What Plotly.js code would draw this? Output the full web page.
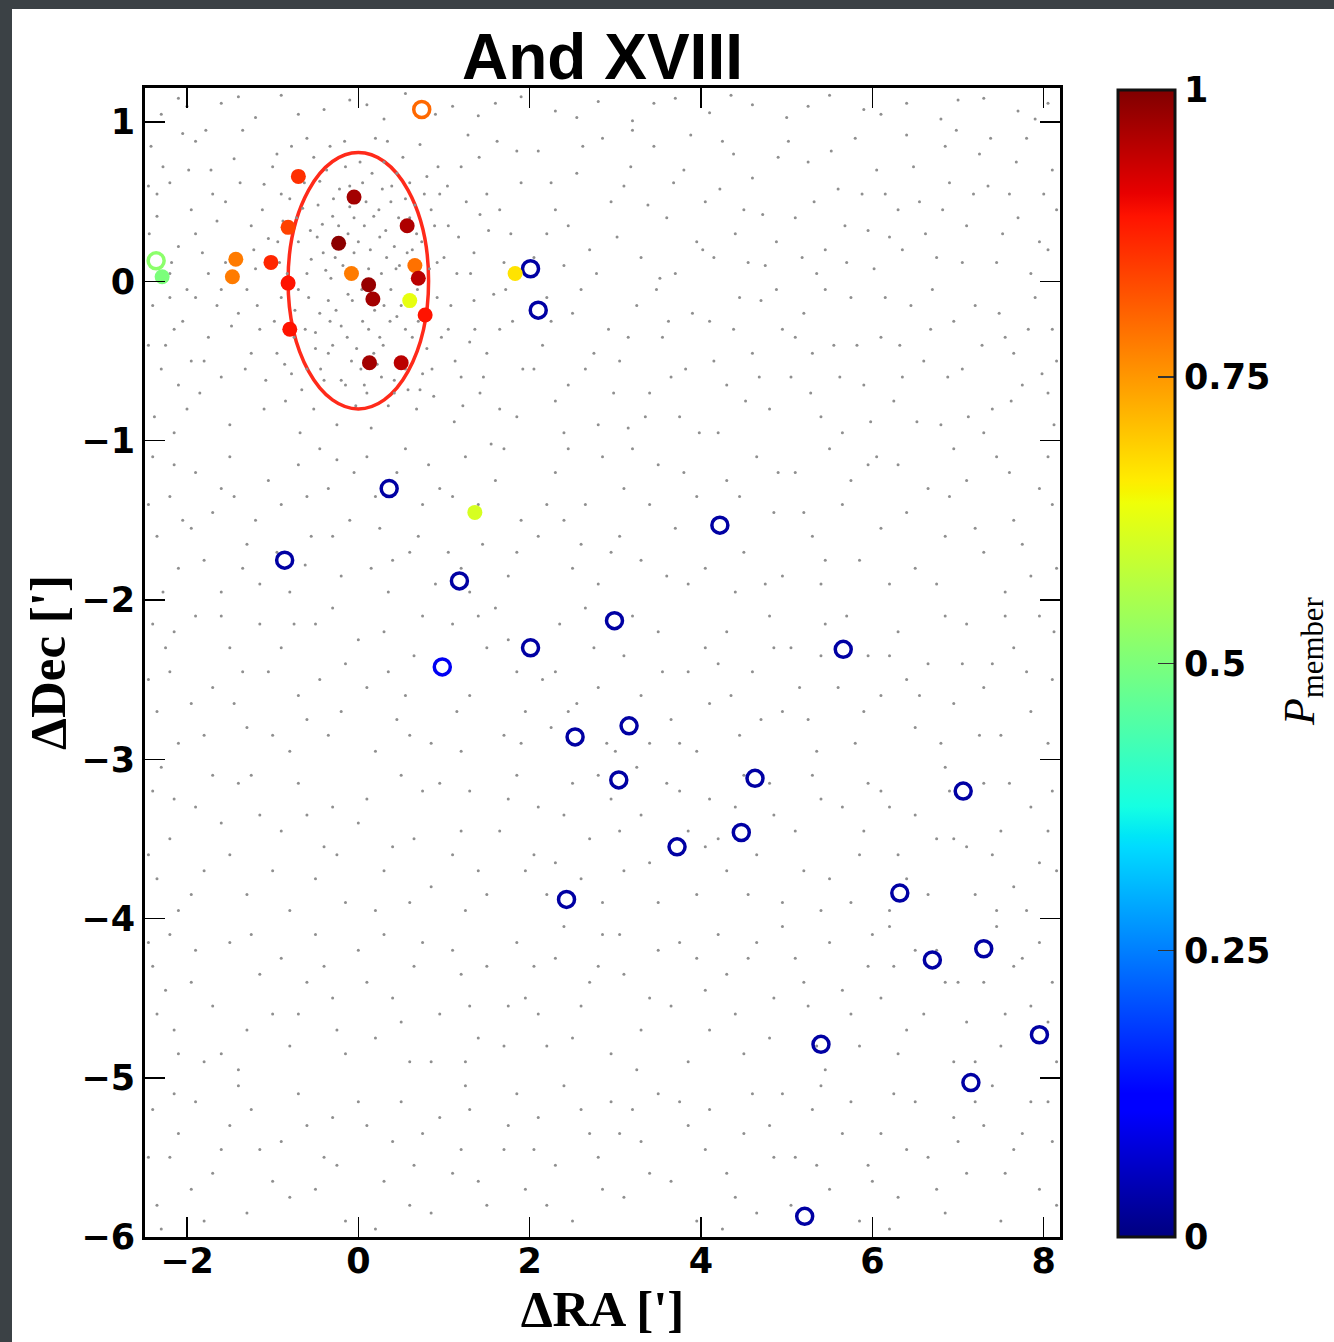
<!DOCTYPE html>
<html>
<head>
<meta charset="utf-8">
<script src="https://cdn.plot.ly/plotly-3.0.1.min.js"></script>
<style>
  html, body { margin:0; padding:0; background:#3b4145; width:1334px; height:1342px; overflow:hidden; }
  #chart { position:absolute; left:12px; top:9px; width:1322px; height:1333px; background:#fff; }
</style>
</head>
<body>
<div id="chart"></div>
<script>
// ---- tick values ----
const raTicks = [-2, 0, 2, 4, 6, 8];
const decTicks = [1, 0, -1, -2, -3, -4, -5, -6];
const cbTicks = [0, 0.25, 0.5, 0.75, 1];
const cbTickText = ['0', '0.25', '0.5', '0.75', '1'];

// ---- filled symbols (probable members), colour = P_member ----
const memberRA  = [-0.70, -0.05, -0.82, 0.57, -0.23, -1.43, -1.47, -1.02, -0.08, 0.66, 0.70, -0.82, 0.12, 0.17, 0.60, 0.78, -0.80, 0.13, 0.50, 1.83, 1.36, -2.29];
const memberDec = [ 0.66,  0.53,  0.34, 0.35,  0.24,  0.14,  0.03,  0.12,  0.05, 0.10, 0.02, -0.01, -0.02, -0.11, -0.12, -0.21, -0.30, -0.51, -0.51, 0.05, -1.45, 0.03];
const memberP   = [ 0.86,  0.97,  0.84, 0.96,  0.99,  0.78,  0.78,  0.87,  0.78, 0.79, 0.95, 0.89, 0.98, 0.97, 0.63, 0.89, 0.89, 0.97, 0.95, 0.67, 0.61, 0.50];

// ---- open symbols ----
const ringRA  = [0.74, -2.36, 2.01, 2.10, 0.36, 4.22, -0.86, 1.18, 2.99, 2.01, 5.66, 0.98, 3.16, 2.53, 3.04, 4.63, 7.06, 4.47, 3.72, 2.43, 6.32, 7.30, 6.70, 5.40, 7.95, 7.15, 5.21];
const ringDec = [1.08, 0.13, 0.08, -0.18, -1.30, -1.53, -1.75, -1.88, -2.13, -2.30, -2.31, -2.42, -2.79, -2.86, -3.13, -3.12, -3.20, -3.46, -3.55, -3.88, -3.84, -4.19, -4.26, -4.79, -4.73, -5.03, -5.87];
const ringP   = [0.80, 0.52, 0.03, 0.03, 0.03, 0.03, 0.03, 0.03, 0.03, 0.03, 0.03, 0.10, 0.03, 0.03, 0.03, 0.03, 0.03, 0.03, 0.03, 0.03, 0.03, 0.03, 0.03, 0.03, 0.03, 0.03, 0.03];

// ---- half-light ellipse (data units) ----
const ellipseRA  = [-0.82, 0.82];
const ellipseDec = [-0.80, 0.81];

// ---- background field stars (estimated) ----
const bgStars = [
[-2.3,1.05],[-2.1,1.15],[-1.6,1.12],[-1.2,1.03],[-0.9,1.17],[-0.4,1.08],[-0.1,1.14],[0.3,1.02],[0.55,1.18],[1.1,1.1],[1.4,1.04],[1.9,1.16],[2.3,1.07],[2.8,1.13],[3.2,1.01],[3.7,1.15],[4.1,1.06],[4.6,1.11],[5.0,1.03],[5.5,1.17],[5.9,1.08],[6.4,1.12],[6.8,1.02],[7.3,1.15],[7.7,1.07],[8.05,1.12],
[-2.0,1.1],[-1.4,1.16],[-0.7,1.05],[0.1,1.11],[0.9,1.05],[1.6,1.12],[2.55,1.03],[3.45,1.12],[4.35,1.17],[5.25,1.1],[6.1,1.05],[7.0,1.14],[7.9,1.02],
[-2.42,0.85],[-2.2,0.62],[-2.35,0.41],[-2.1,0.22],[-2.28,0.72],[-2.05,0.93],[-2.44,0.3],
[-1.9,0.88],[-1.7,0.55],[-1.45,0.77],[-1.25,0.35],[-1.82,0.18],[-1.55,0.12],[-1.1,0.61],[-1.35,0.95],[-1.65,0.38],[-1.2,0.08],[-1.95,0.45],[-1.05,0.27],
[-0.95,0.8],[-0.8,0.52],[-0.6,0.9],[-0.45,0.63],[-0.3,0.41],[-0.15,0.72],[-0.7,0.25],[-0.55,0.14],[-0.38,0.07],[-0.12,0.3],[-0.05,0.18],[-0.88,0.38],[-0.65,0.46],[-0.22,0.58],[-0.48,0.28],[-0.33,0.85],[-0.75,0.68],[-0.1,0.47],[-0.92,0.12],[-0.27,0.15],[-0.6,0.05],[-0.42,0.36],
[0.05,0.62],[0.18,0.41],[0.3,0.75],[0.42,0.22],[0.55,0.52],[0.68,0.3],[0.8,0.66],[0.92,0.12],[0.12,0.08],[0.25,0.28],[0.38,0.5],[0.48,0.1],[0.6,0.4],[0.72,0.86],[0.85,0.45],[0.2,0.9],[0.33,0.15],[0.45,0.68],[0.07,0.35],[0.63,0.2],[0.95,0.55],[0.28,0.58],
[1.05,0.35],[1.2,0.72],[1.35,0.18],[1.5,0.55],[1.62,0.88],[1.78,0.3],[1.9,0.62],[1.15,0.05],[1.42,0.42],[1.7,0.12],[1.28,0.92],
[2.1,0.82],[2.3,0.45],[2.55,0.68],[2.7,0.2],[2.85,0.9],[2.4,0.1],[2.95,0.5],[2.2,0.3],
[3.1,0.6],[3.3,0.15],[3.45,0.85],[3.6,0.4],[3.8,0.7],[3.95,0.25],[3.2,0.95],[3.7,0.05],
[4.05,0.5],[4.25,0.88],[4.4,0.3],[4.6,0.65],[4.75,0.1],[4.9,0.78],[4.5,0.45],[4.15,0.15],
[5.1,0.4],[5.25,0.75],[5.45,0.2],[5.6,0.58],[5.8,0.9],[5.95,0.32],[5.35,0.05],[5.7,0.12],
[6.05,0.7],[6.2,0.28],[6.4,0.92],[6.55,0.5],[6.75,0.15],[6.9,0.62],[6.3,0.45],[6.85,0.85],
[7.1,0.35],[7.25,0.8],[7.45,0.12],[7.6,0.55],[7.8,0.9],[7.95,0.25],[7.35,0.6],[7.7,0.4],
[8.1,0.7],[8.05,0.2],[8.15,0.45],
[-2.45,0.6],[-2.18,0.12],[-1.98,0.7],[-1.78,0.95],[1.65,0.45],[1.85,0.82],[2.05,0.15],[2.25,0.62],[2.45,0.35],[2.62,0.85],[2.78,0.05],[3.02,0.28],[3.18,0.72],[3.38,0.48],[3.52,0.02],[3.68,0.62],[3.88,0.92],[4.02,0.2],[4.22,0.58],[4.38,0.8],[4.55,0.12],[4.72,0.42],[4.88,0.25],[5.02,0.88],[5.18,0.15],[5.32,0.5],[5.52,0.82],[5.68,0.35],[5.88,0.55],[6.02,0.08],[6.15,0.55],[6.35,0.2],[6.48,0.72],[6.62,0.3],[6.82,0.45],[6.98,0.95],[7.05,0.12],[7.18,0.55],[7.38,0.9],[7.52,0.3],[7.68,0.75],[7.85,0.05],[8.0,0.55],
[-2.2,0.05],[-2.0,-0.05],[-1.9,0.3],[-1.75,0.05],[-1.6,-0.05],[-1.72,0.7],[-2.35,0.55],[-2.15,-0.3],
[-1.55,0.5],[-1.48,-0.28],[-1.38,0.62],[-1.32,-0.55],[-1.22,0.2],[-1.18,-0.15],[-1.12,0.45],[-1.08,-0.62],[-1.0,0.72],[-0.98,-0.25],[-0.94,0.25],[-0.9,0.55],[-0.86,-0.52],[-0.83,0.05],[-0.78,0.85],[-0.74,-0.18],[-0.72,0.4],[-0.66,-0.68],[-0.63,0.62],[-0.58,-0.1],[-0.56,0.32],[-0.52,0.78],[-0.5,-0.32],[-0.47,0.48],[-0.44,-0.55],[-0.41,0.18],[-0.37,0.7],[-0.35,-0.45],[-0.32,0.02],[-0.29,0.52],[-0.26,-0.18],[-0.23,0.35],[-0.2,-0.62],[-0.18,0.1],[-0.16,0.88],[-0.13,-0.35],[-0.1,0.6],[-0.07,-0.12],[-0.05,0.4],[-0.02,-0.42],[0.0,0.25],[0.02,0.75],[0.04,-0.05],[0.07,-0.65],[0.09,0.5],[0.12,-0.3],[0.14,0.2],[0.16,0.68],[0.19,-0.18],[0.22,-0.52],[0.24,0.45],[0.27,0.05],[0.29,-0.4],[0.32,0.32],[0.34,0.88],[0.37,-0.25],[0.39,0.6],[0.42,-0.7],[0.44,0.08],[0.47,0.4],[0.5,-0.15],[0.52,0.78],[0.55,-0.55],[0.57,0.18],[0.6,0.62],[0.63,-0.35],[0.66,0.48],[0.69,-0.05],[0.72,-0.68],[0.74,0.25],[0.77,0.55],[0.8,-0.2],[0.83,0.08],[0.86,-0.55],[0.89,0.35],[0.93,0.72],[0.97,-0.35],[1.0,0.15],[1.04,0.6],[1.08,-0.15],[1.13,-0.5],[1.17,0.28],[1.22,-0.78],[1.26,0.5],[1.31,0.05],[1.36,-0.3],[1.41,0.78],[1.46,-0.6],[1.52,0.32],[1.58,-0.08],
[-2.4,-0.15],[-2.25,-0.4],[-2.1,-0.65],[-2.38,-0.85],[-2.05,-0.25],[-2.3,-0.55],[-2.15,-0.95],
[-1.9,-0.1],[-1.75,-0.35],[-1.6,-0.6],[-1.4,-0.2],[-1.25,-0.45],[-1.1,-0.8],[-1.85,-0.7],[-1.5,-0.9],[-1.3,-0.05],[-1.65,-0.15],[-1.15,-0.3],[-1.95,-0.5],
[-0.9,-0.1],[-0.75,-0.35],[-0.6,-0.55],[-0.45,-0.2],[-0.3,-0.4],[-0.15,-0.65],[-0.85,-0.75],[-0.7,-0.05],[-0.52,-0.8],[-0.35,-0.12],[-0.2,-0.28],[-0.08,-0.5],[-0.95,-0.45],[-0.62,-0.3],[-0.4,-0.62],[-0.25,-0.9],[-0.12,-0.08],[-0.5,-0.42],[-0.78,-0.58],[-0.03,-0.78],[-0.33,-0.25],[-0.68,-0.95],
[0.05,-0.25],[0.18,-0.45],[0.3,-0.15],[0.42,-0.62],[0.55,-0.3],[0.68,-0.8],[0.8,-0.42],[0.92,-0.1],[0.1,-0.7],[0.25,-0.35],[0.38,-0.05],[0.5,-0.48],[0.62,-0.12],[0.75,-0.58],[0.88,-0.72],[0.15,-0.92],[0.35,-0.78],[0.45,-0.22],[0.58,-0.68],[0.03,-0.55],[0.27,-0.6],[0.7,-0.25],
[1.05,-0.3],[1.2,-0.6],[1.35,-0.12],[1.5,-0.45],[1.65,-0.8],[1.8,-0.25],[1.92,-0.55],[1.12,-0.88],[1.42,-0.7],[1.72,-0.05],[1.3,-0.38],
[2.15,-0.4],[2.3,-0.75],[2.5,-0.2],[2.65,-0.55],[2.8,-0.9],[2.92,-0.3],[2.4,-0.95],[2.2,-0.1],
[3.05,-0.5],[3.25,-0.15],[3.4,-0.7],[3.55,-0.35],[3.75,-0.85],[3.9,-0.2],[3.15,-0.92],[3.65,-0.6],
[4.1,-0.25],[4.3,-0.65],[4.45,-0.1],[4.6,-0.45],[4.8,-0.8],[4.95,-0.3],[4.2,-0.95],[4.7,-0.12],
[5.05,-0.6],[5.2,-0.2],[5.4,-0.85],[5.55,-0.4],[5.75,-0.1],[5.9,-0.65],[5.3,-0.45],[5.65,-0.95],
[6.1,-0.35],[6.25,-0.75],[6.45,-0.15],[6.6,-0.5],[6.8,-0.9],[6.95,-0.25],[6.35,-0.6],[6.7,-0.05],
[7.05,-0.55],[7.2,-0.15],[7.4,-0.8],[7.55,-0.35],[7.75,-0.65],[7.9,-0.1],[7.3,-0.95],[7.65,-0.45],
[8.1,-0.3],[8.05,-0.7],[8.15,-0.5],
[-2.45,-0.4],[-2.2,-0.1],[-2.0,-0.8],[-1.8,-0.5],[1.65,-0.3],[1.85,-0.85],[2.05,-0.55],[2.25,-0.25],[2.45,-0.65],[2.6,-0.05],[2.75,-0.45],[2.98,-0.7],[3.15,-0.35],[3.35,-0.85],[3.48,-0.05],[3.62,-0.25],[3.82,-0.55],[3.98,-0.95],[4.15,-0.5],[4.38,-0.3],[4.52,-0.75],[4.68,-0.6],[4.88,-0.05],[5.1,-0.35],[5.28,-0.7],[5.45,-0.05],[5.62,-0.6],[5.82,-0.4],[5.98,-0.88],[6.15,-0.1],[6.32,-0.4],[6.52,-0.88],[6.68,-0.3],[6.88,-0.6],[7.12,-0.85],[7.28,-0.4],[7.48,-0.2],[7.62,-0.75],[7.82,-0.3],[7.98,-0.58],[8.12,-0.9],
[-2.4,-1.1],[-2.2,-1.35],[-2.35,-1.6],[-2.1,-1.8],[-2.28,-1.95],[-2.05,-1.5],
[-1.9,-1.2],[-1.7,-1.45],[-1.5,-1.1],[-1.3,-1.65],[-1.15,-1.9],[-1.8,-1.75],[-1.45,-1.35],[-1.05,-1.25],[-1.6,-1.95],
[-0.9,-1.4],[-0.7,-1.15],[-0.55,-1.6],[-0.35,-1.3],[-0.2,-1.85],[-0.8,-1.95],[-0.45,-1.05],[-0.1,-1.5],[-0.62,-1.78],[-0.25,-1.12],
[0.1,-1.1],[0.25,-1.55],[0.45,-1.2],[0.6,-1.7],[0.75,-1.4],[0.9,-1.9],[0.15,-1.8],[0.55,-1.05],[0.82,-1.15],[0.35,-1.95],
[1.1,-1.35],[1.25,-1.1],[1.45,-1.65],[1.6,-1.25],[1.75,-1.85],[1.9,-1.5],[1.3,-1.95],[1.55,-1.02],[1.05,-1.7],
[2.1,-1.6],[2.3,-1.2],[2.5,-1.8],[2.65,-1.4],[2.85,-1.1],[2.95,-1.7],[2.4,-1.5],
[3.1,-1.3],[3.3,-1.75],[3.5,-1.15],[3.7,-1.55],[3.85,-1.9],[3.2,-1.05],[3.95,-1.35],
[4.05,-1.8],[4.3,-1.25],[4.5,-1.7],[4.65,-1.1],[4.85,-1.45],[4.4,-1.95],[4.95,-1.85],
[5.1,-1.2],[5.3,-1.6],[5.5,-1.05],[5.65,-1.4],[5.85,-1.75],[5.95,-1.15],[5.4,-1.9],
[6.1,-1.55],[6.3,-1.15],[6.5,-1.8],[6.65,-1.3],[6.85,-1.6],[6.95,-1.05],[6.2,-1.9],
[7.1,-1.25],[7.3,-1.7],[7.45,-1.1],[7.65,-1.5],[7.85,-1.85],[7.95,-1.3],[7.55,-1.95],
[8.1,-1.4],[8.15,-1.8],
[-2.45,-1.4],[-2.15,-1.15],[-1.95,-1.55],[-1.6,-1.3],[-1.35,-1.8],[-1.2,-1.5],[-0.95,-1.7],[-0.6,-1.35],[-0.3,-1.6],[-0.05,-1.2],[0.2,-1.35],[0.4,-1.75],[0.7,-1.6],[0.95,-1.3],[1.2,-1.8],[1.4,-1.4],[1.7,-1.05],[1.85,-1.7],[2.2,-1.4],[2.45,-1.05],[2.6,-1.65],[2.8,-1.9],[3.05,-1.6],[3.4,-1.4],[3.6,-1.85],[3.8,-1.2],[4.15,-1.5],[4.45,-1.35],[4.75,-1.9],[4.9,-1.2],[5.2,-1.45],[5.45,-1.75],[5.75,-1.25],[6.05,-1.1],[6.4,-1.45],[6.75,-1.9],[6.9,-1.35],[7.2,-1.55],[7.6,-1.2],[7.75,-1.65],[8.05,-1.1],
[-2.4,-2.15],[-2.2,-2.45],[-2.35,-2.7],[-2.1,-2.9],[-2.25,-2.3],
[-1.9,-2.1],[-1.7,-2.55],[-1.5,-2.3],[-1.3,-2.8],[-1.15,-2.15],[-1.8,-2.85],[-1.45,-2.65],[-1.05,-2.45],
[-0.9,-2.3],[-0.7,-2.6],[-0.5,-2.15],[-0.35,-2.85],[-0.15,-2.4],[-0.8,-2.95],[-0.3,-2.05],[-0.6,-2.75],
[0.1,-2.55],[0.3,-2.2],[0.45,-2.75],[0.65,-2.35],[0.85,-2.9],[0.2,-2.95],[0.75,-2.1],[0.55,-2.6],
[1.1,-2.15],[1.3,-2.6],[1.5,-2.3],[1.7,-2.85],[1.85,-2.45],[1.2,-2.95],[1.6,-2.05],[1.95,-2.7],
[2.15,-2.5],[2.35,-2.15],[2.55,-2.65],[2.75,-2.3],[2.9,-2.9],[2.25,-2.8],[2.65,-2.05],
[3.1,-2.35],[3.3,-2.6],[3.5,-2.2],[3.65,-2.75],[3.85,-2.45],[3.95,-2.95],[3.4,-2.9],
[4.1,-2.65],[4.3,-2.2],[4.45,-2.85],[4.6,-2.45],[4.8,-2.1],[4.95,-2.7],[4.2,-2.4],
[5.05,-2.3],[5.25,-2.75],[5.45,-2.15],[5.6,-2.55],[5.8,-2.9],[5.95,-2.35],[5.35,-2.95],
[6.1,-2.6],[6.3,-2.2],[6.5,-2.8],[6.65,-2.4],[6.85,-2.1],[6.95,-2.65],[6.4,-2.5],
[7.1,-2.15],[7.3,-2.55],[7.5,-2.85],[7.65,-2.3],[7.85,-2.7],[7.95,-2.1],[7.4,-2.4],
[8.1,-2.5],[8.05,-2.9],
[-2.45,-2.5],[-2.15,-2.2],[-1.95,-2.65],[-1.6,-2.1],[-1.35,-2.45],[-1.0,-2.85],[-0.75,-2.15],[-0.45,-2.5],[-0.2,-2.7],[0.0,-2.25],[0.35,-2.45],[0.6,-2.85],[0.9,-2.4],[1.15,-2.7],[1.4,-2.1],[1.75,-2.25],[1.9,-2.9],[2.3,-2.45],[2.45,-2.7],[2.8,-2.55],[3.0,-2.95],[3.2,-2.1],[3.55,-2.45],[3.75,-2.9],[4.05,-2.3],[4.35,-2.6],[4.7,-2.75],[4.85,-2.3],[5.15,-2.55],[5.4,-2.35],[5.7,-2.1],[5.9,-2.7],[6.2,-2.35],[6.55,-2.6],[6.8,-2.9],[7.05,-2.4],[7.25,-2.85],[7.55,-2.1],[7.8,-2.45],[8.12,-2.2],
[-2.4,-3.2],[-2.2,-3.5],[-2.35,-3.75],[-2.1,-3.95],[-2.3,-3.05],
[-1.9,-3.3],[-1.7,-3.1],[-1.5,-3.6],[-1.3,-3.85],[-1.15,-3.35],[-1.8,-3.7],[-1.4,-3.15],
[-0.9,-3.45],[-0.7,-3.15],[-0.5,-3.75],[-0.3,-3.3],[-0.15,-3.9],[-0.8,-3.95],[-0.4,-3.55],
[0.1,-3.25],[0.3,-3.7],[0.5,-3.1],[0.65,-3.5],[0.85,-3.8],[0.2,-3.95],[0.75,-3.2],
[1.1,-3.6],[1.3,-3.2],[1.5,-3.85],[1.65,-3.45],[1.85,-3.1],[1.95,-3.7],[1.25,-3.95],
[2.1,-3.3],[2.3,-3.65],[2.5,-3.15],[2.7,-3.5],[2.85,-3.9],[2.95,-3.25],[2.2,-3.85],
[3.1,-3.7],[3.3,-3.35],[3.5,-3.9],[3.6,-3.15],[3.85,-3.45],[3.95,-3.85],[3.25,-3.05],
[4.1,-3.25],[4.3,-3.7],[4.5,-3.1],[4.65,-3.6],[4.85,-3.35],[4.95,-3.9],[4.2,-3.5],
[5.1,-3.45],[5.3,-3.1],[5.5,-3.75],[5.65,-3.3],[5.85,-3.6],[5.95,-3.15],[5.4,-3.95],
[6.1,-3.2],[6.3,-3.6],[6.5,-3.35],[6.65,-3.85],[6.85,-3.05],[6.95,-3.5],[6.2,-3.95],
[7.1,-3.55],[7.3,-3.15],[7.5,-3.45],[7.65,-3.8],[7.85,-3.3],[7.95,-3.65],[7.45,-3.95],
[8.1,-3.2],[8.15,-3.7],
[-2.45,-3.6],[-2.15,-3.25],[-1.95,-3.85],[-1.6,-3.4],[-1.25,-3.1],[-1.0,-3.7],[-0.6,-3.35],[-0.25,-3.6],[0.0,-3.4],[0.4,-3.55],[0.6,-3.9],[0.95,-3.15],[1.2,-3.45],[1.4,-3.7],[1.75,-3.25],[2.05,-3.6],[2.4,-3.35],[2.6,-3.75],[2.8,-3.1],[3.05,-3.45],[3.4,-3.65],[3.75,-3.2],[4.05,-3.55],[4.4,-3.3],[4.55,-3.85],[4.8,-3.15],[5.2,-3.7],[5.4,-3.25],[5.75,-3.9],[5.9,-3.45],[6.2,-3.3],[6.4,-3.75],[6.75,-3.5],[6.9,-3.2],[7.2,-3.85],[7.4,-3.6],[7.6,-3.15],[7.8,-3.95],[8.05,-3.45],
[-2.4,-4.3],[-2.2,-4.1],[-2.35,-4.6],[-2.1,-4.85],[-2.25,-4.45],
[-1.9,-4.2],[-1.7,-4.55],[-1.5,-4.15],[-1.3,-4.7],[-1.15,-4.35],[-1.8,-4.9],[-1.4,-4.95],
[-0.9,-4.25],[-0.7,-4.6],[-0.5,-4.1],[-0.3,-4.5],[-0.15,-4.85],[-0.8,-4.8],[-0.4,-4.3],
[0.1,-4.4],[0.3,-4.1],[0.5,-4.65],[0.65,-4.3],[0.85,-4.9],[0.2,-4.75],[0.75,-4.15],
[1.1,-4.2],[1.3,-4.55],[1.5,-4.3],[1.7,-4.8],[1.85,-4.15],[1.95,-4.5],[1.25,-4.9],
[2.1,-4.6],[2.3,-4.25],[2.5,-4.75],[2.7,-4.4],[2.85,-4.1],[2.95,-4.85],[2.4,-4.05],
[3.1,-4.35],[3.3,-4.7],[3.5,-4.2],[3.65,-4.55],[3.85,-4.9],[3.95,-4.25],[3.25,-4.95],
[4.1,-4.7],[4.3,-4.35],[4.5,-4.85],[4.65,-4.15],[4.85,-4.5],[4.95,-4.05],[4.2,-4.1],
[5.1,-4.25],[5.25,-4.55],[5.5,-4.15],[5.65,-4.45],[5.85,-4.8],[5.95,-4.3],[5.45,-4.95],
[6.1,-4.5],[6.3,-4.85],[6.5,-4.2],[6.6,-4.6],[6.85,-4.4],[6.95,-4.9],[6.2,-4.05],
[7.1,-4.65],[7.3,-4.4],[7.5,-4.8],[7.65,-4.3],[7.85,-4.55],[7.95,-4.15],[7.45,-4.05],
[8.1,-4.4],[8.15,-4.9],
[-2.45,-4.15],[-2.15,-4.7],[-1.95,-4.4],[-1.6,-4.85],[-1.25,-4.1],[-1.0,-4.6],[-0.6,-4.4],[-0.25,-4.7],[0.0,-4.2],[0.4,-4.5],[0.6,-4.9],[0.95,-4.6],[1.2,-4.35],[1.4,-4.75],[1.75,-4.55],[2.05,-4.3],[2.2,-4.8],[2.6,-4.55],[2.8,-4.3],[3.05,-4.1],[3.4,-4.5],[3.75,-4.15],[4.05,-4.45],[4.4,-4.6],[4.55,-4.25],[4.8,-4.75],[5.2,-4.4],[5.35,-4.8],[5.75,-4.6],[6.0,-4.1],[6.25,-4.3],[6.4,-4.7],[6.75,-4.2],[7.0,-4.4],[7.2,-4.9],[7.55,-4.6],[7.75,-4.25],[8.05,-4.65],
[-2.4,-5.2],[-2.2,-5.5],[-2.35,-5.8],[-2.1,-5.35],[-2.3,-5.95],
[-1.9,-5.15],[-1.7,-5.6],[-1.5,-5.3],[-1.3,-5.85],[-1.15,-5.45],[-1.8,-5.9],[-1.4,-5.05],
[-0.9,-5.4],[-0.7,-5.1],[-0.5,-5.7],[-0.3,-5.25],[-0.15,-5.9],[-0.8,-5.75],[-0.4,-5.5],
[0.1,-5.3],[0.3,-5.65],[0.5,-5.15],[0.65,-5.55],[0.85,-5.85],[0.2,-5.95],[0.75,-5.35],
[1.1,-5.6],[1.3,-5.2],[1.5,-5.8],[1.7,-5.45],[1.85,-5.1],[1.95,-5.7],[1.25,-5.05],
[2.1,-5.25],[2.3,-5.55],[2.5,-5.9],[2.7,-5.35],[2.85,-5.7],[2.95,-5.15],[2.4,-5.05],
[3.1,-5.75],[3.3,-5.4],[3.5,-5.1],[3.65,-5.65],[3.85,-5.3],[3.95,-5.9],[3.2,-5.2],
[4.1,-5.2],[4.3,-5.6],[4.5,-5.35],[4.65,-5.85],[4.85,-5.5],[4.95,-5.1],[4.25,-5.95],
[5.1,-5.5],[5.3,-5.2],[5.5,-5.7],[5.65,-5.35],[5.85,-5.9],[5.95,-5.55],[5.4,-5.05],
[6.1,-5.35],[6.3,-5.75],[6.5,-5.15],[6.65,-5.5],[6.85,-5.85],[6.95,-5.25],[6.2,-5.95],
[7.1,-5.6],[7.3,-5.3],[7.5,-5.9],[7.65,-5.45],[7.85,-5.15],[7.95,-5.7],[7.4,-5.05],
[8.1,-5.4],[8.15,-5.8],
[-2.45,-5.5],[-2.15,-5.1],[-1.95,-5.7],[-1.6,-5.45],[-1.25,-5.2],[-1.0,-5.65],[-0.6,-5.3],[-0.25,-5.55],[0.0,-5.15],[0.4,-5.4],[0.6,-5.8],[0.95,-5.25],[1.2,-5.45],[1.4,-5.65],[1.75,-5.3],[2.05,-5.45],[2.2,-5.8],[2.6,-5.2],[2.8,-5.5],[3.05,-5.35],[3.4,-5.6],[3.75,-5.15],[4.05,-5.45],[4.4,-5.75],[4.6,-5.1],[4.8,-5.3],[5.05,-5.8],[5.35,-5.55],[5.75,-5.15],[6.0,-5.65],[6.25,-5.1],[6.4,-5.45],[6.75,-5.7],[7.0,-5.4],[7.2,-5.15],[7.55,-5.6],[7.75,-5.35],[8.05,-5.15]
];

// matplotlib "jet" colour map
const jet = [
  [0.00, 'rgb(0,0,128)'], [0.11, 'rgb(0,0,255)'], [0.125, 'rgb(0,0,255)'],
  [0.34, 'rgb(0,219,255)'], [0.35, 'rgb(0,230,247)'], [0.375, 'rgb(21,255,226)'],
  [0.64, 'rgb(239,255,8)'], [0.65, 'rgb(247,245,0)'], [0.66, 'rgb(255,236,0)'],
  [0.89, 'rgb(255,19,0)'], [0.91, 'rgb(232,0,0)'], [1.00, 'rgb(128,0,0)']
];

const tickFont = { family: 'DejaVu Sans, sans-serif', size: 35, color: '#000', weight: 'bold' };
const axTitleFont = { family: 'Liberation Serif, Times New Roman, serif', size: 51, color: '#000', weight: 'bold' };

const traces = [
  {
    type: 'scatter', mode: 'markers', hoverinfo: 'skip', showlegend: false,
    x: bgStars.map(p => p[0]), y: bgStars.map(p => p[1]),
    marker: { size: 3, color: '#8f8f8f', line: { width: 0 } }
  },
  {
    type: 'scatter', mode: 'markers', showlegend: false,
    x: ringRA, y: ringDec,
    marker: {
      symbol: 'circle-open', size: 16, color: ringP, colorscale: jet, cmin: 0, cmax: 1,
      line: { width: 3.5, color: ringP, colorscale: jet, cmin: 0, cmax: 1 },
      showscale: false
    }
  },
  {
    type: 'scatter', mode: 'markers', showlegend: false,
    x: memberRA, y: memberDec,
    marker: {
      symbol: 'circle', size: 15, color: memberP, colorscale: jet, cmin: 0, cmax: 1,
      line: { width: 0 },
      showscale: true,
      colorbar: {
        x: 1.0634, xanchor: 'left', y: 0, yanchor: 'bottom',
        len: 0.998, lenmode: 'fraction', thickness: 57, thicknessmode: 'pixels',
        xpad: 0, ypad: 0, outlinewidth: 3, outlinecolor: '#111',
        tickvals: cbTicks, ticktext: cbTickText,
        ticks: 'inside', ticklen: 18, tickwidth: 1.5, tickcolor: '#333',
        tickfont: tickFont
      }
    }
  }
];

const layout = {
  width: 1322, height: 1333,
  margin: { l: 133, r: 274, t: 79, b: 105 },
  paper_bgcolor: '#fff', plot_bgcolor: '#fff',
  showlegend: false,
  title: {
    text: 'And XVIII',
    font: { family: 'Liberation Sans, Arial, sans-serif', size: 64, color: '#000', weight: 'bold' },
    x: 0.5, xref: 'paper', xanchor: 'center', y: 1, yref: 'paper', yanchor: 'bottom', pad: { b: 9 }
  },
  xaxis: {
    range: [-2.49, 8.19], tickvals: raTicks, ticktext: raTicks.map(v => v < 0 ? '\u2212' + Math.abs(v) : String(v)),
    ticks: 'inside', ticklen: 20, tickwidth: 1.5, tickcolor: '#000', ticklabelstandoff: -9,
    showline: true, linewidth: 3, linecolor: '#000', mirror: 'ticks',
    showgrid: false, zeroline: false, tickfont: tickFont,
    title: { text: "\u0394RA [']", font: axTitleFont, standoff: 2 }
  },
  yaxis: {
    range: [-6.0, 1.215], tickvals: decTicks, ticktext: decTicks.map(v => v < 0 ? '\u2212' + Math.abs(v) : String(v)),
    ticks: 'inside', ticklen: 20, tickwidth: 1.5, tickcolor: '#000',
    showline: true, linewidth: 3, linecolor: '#000', mirror: 'ticks',
    showgrid: false, zeroline: false, tickfont: tickFont,
    title: { text: "\u0394Dec [']", font: axTitleFont, standoff: 0 }
  },
  shapes: [{
    type: 'circle', xref: 'x', yref: 'y', layer: 'below',
    x0: ellipseRA[0], x1: ellipseRA[1], y0: ellipseDec[0], y1: ellipseDec[1],
    line: { color: '#ff2a1a', width: 3.5 }, fillcolor: 'rgba(0,0,0,0)'
  }],
  annotations: [{
    text: '<i>P</i><sub>member</sub>', textangle: -90, showarrow: false,
    xref: 'paper', yref: 'paper', x: 1.2645, y: 0.5004, xanchor: 'center', yanchor: 'middle',
    font: { family: 'Liberation Serif, Times New Roman, serif', size: 44, color: '#000' }
  }]
};

Plotly.newPlot('chart', traces, layout, { displayModeBar: false, staticPlot: true });
</script>
</body>
</html>
